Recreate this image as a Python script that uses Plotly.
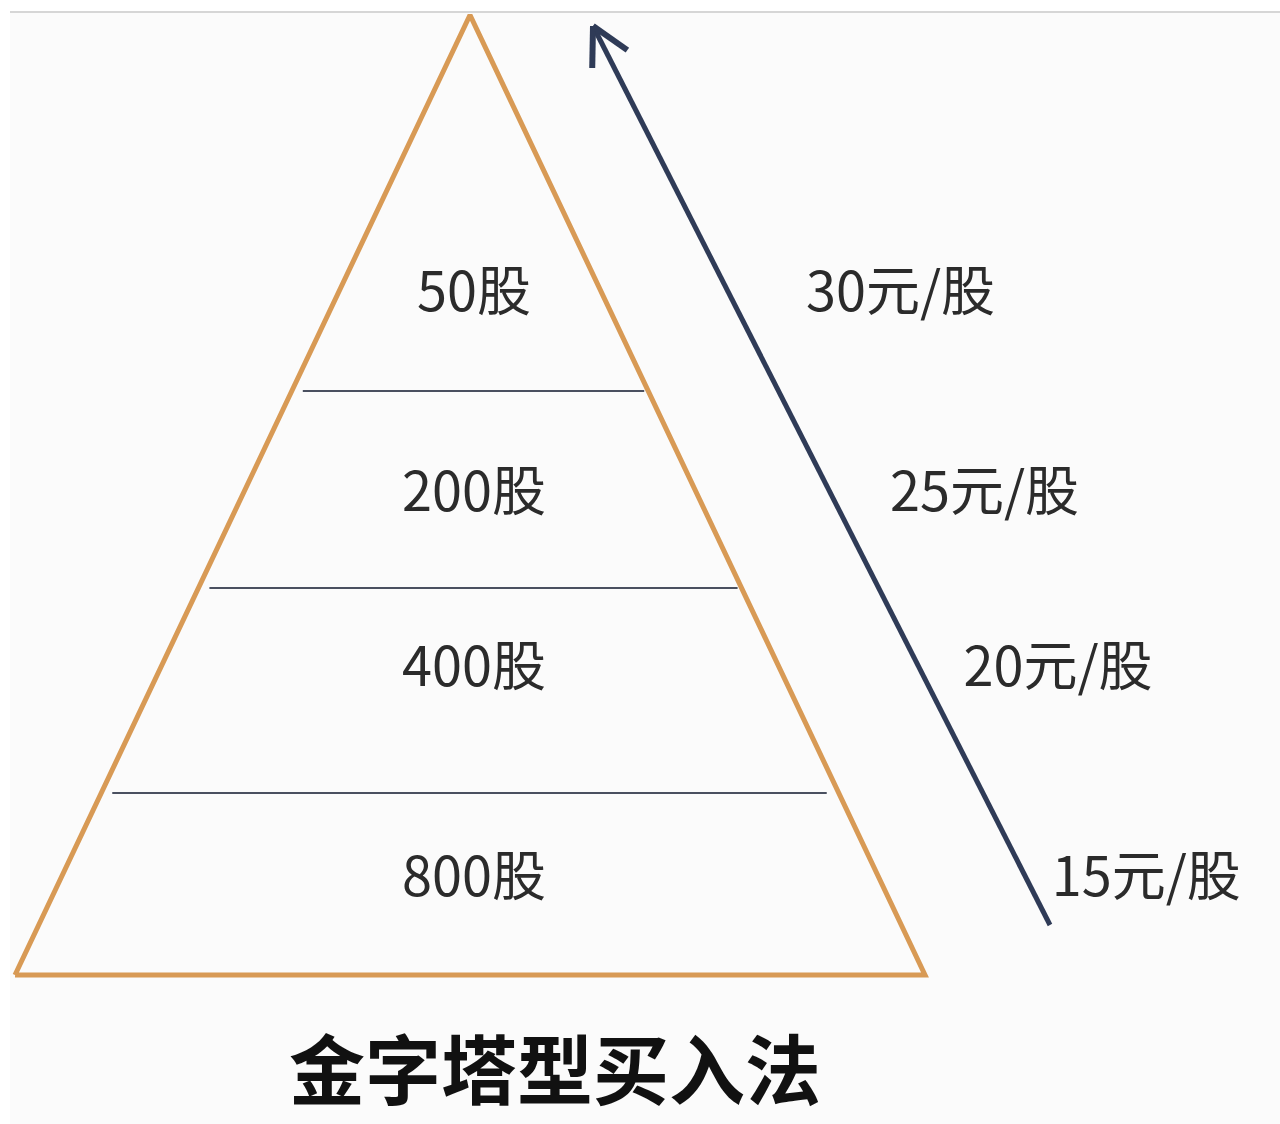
import math
import plotly.graph_objects as go

# ---- data ----
shares = [50, 200, 400, 800]          # shares bought at each tier (top -> bottom)
prices = [30, 25, 20, 15]             # price per share at each tier (yuan)
share_labels = [f"{s}股" for s in shares]
price_labels = [f"{p}元/股" for p in prices]
title_text = "金字塔型买入法"

# ---- layout geometry (pixel space) ----
W, H = 1280, 1124
apex = (470, 15)
base_y = 975
base_left, base_right = 15, 925
divider_y = [391, 588, 793]           # tier separators
label_y = [297, 497, 672, 882]        # tier label centres
arrow_tail = (1050, 925)
arrow_tip = (593, 26)

TRI_COLOR = "#D89A55"
ARROW_COLOR = "#2F3B57"
TEXT_COLOR = "#2b2b2b"
FONT = "Noto Sans CJK SC"

def edge_x(y, side):
    t = (y - apex[1]) / (base_y - apex[1])
    end = base_left if side == "left" else base_right
    return apex[0] + (end - apex[0]) * t

fig = go.Figure()

# background panel
fig.add_shape(type="rect", x0=10, y0=12, x1=W, y1=H, fillcolor="#fbfbfb",
              line=dict(width=0), layer="below")
fig.add_shape(type="line", x0=10, y0=12, x1=W, y1=12,
              line=dict(color="#d6d6d6", width=2), layer="below")

# dividers
for i, y in enumerate(divider_y):
    fig.add_trace(go.Scatter(
        x=[edge_x(y, "left") + 11, edge_x(y, "right") - (4 if i < 2 else 12)],
        y=[y, y], mode="lines",
        line=dict(color="#4a5060", width=2), hoverinfo="skip", showlegend=False))

# triangle
fig.add_trace(go.Scatter(
    x=[base_left, apex[0], base_right, base_left],
    y=[base_y, apex[1], base_y, base_y],
    mode="lines", line=dict(color=TRI_COLOR, width=5),
    hoverinfo="skip", showlegend=False))

# arrow shaft and open head
fig.add_trace(go.Scatter(
    x=[arrow_tail[0], arrow_tip[0]], y=[arrow_tail[1], arrow_tip[1]],
    mode="lines", line=dict(color=ARROW_COLOR, width=5),
    hoverinfo="skip", showlegend=False))
ang = math.atan2(arrow_tail[1] - arrow_tip[1], arrow_tail[0] - arrow_tip[0])
head_len, spread = 42, math.radians(28)
for s in (+1, -1):
    a = ang + s * spread
    fig.add_trace(go.Scatter(
        x=[arrow_tip[0], arrow_tip[0] + head_len * math.cos(a)],
        y=[arrow_tip[1], arrow_tip[1] + head_len * math.sin(a)],
        mode="lines", line=dict(color=ARROW_COLOR, width=6),
        hoverinfo="skip", showlegend=False))

# tier labels
fig.add_trace(go.Scatter(
    x=[apex[0] + 4] * len(shares), y=label_y, mode="text",
    text=share_labels, textposition="middle center",
    textfont=dict(family=FONT, size=54, color=TEXT_COLOR),
    hoverinfo="skip", showlegend=False))

# price labels, left-aligned along a line next to the arrow
price_x = [806 + 0.42 * (y - label_y[0]) for y in label_y]
fig.add_trace(go.Scatter(
    x=price_x, y=label_y, mode="text",
    text=price_labels, textposition="middle right",
    textfont=dict(family=FONT, size=54, color=TEXT_COLOR),
    hoverinfo="skip", showlegend=False))

# title
fig.add_annotation(x=555, y=1066, xref="x", yref="y", text=f"<b>{title_text}</b>",
                   showarrow=False, font=dict(family=FONT, size=76, color="#111111"),
                   xanchor="center", yanchor="middle")

fig.update_layout(
    width=W, height=H, margin=dict(l=0, r=0, t=0, b=0),
    paper_bgcolor="white", plot_bgcolor="white",
    xaxis=dict(range=[0, W], visible=False, fixedrange=True),
    yaxis=dict(range=[H, 0], visible=False, fixedrange=True),
)

fig.write_html("out.html", config={"displayModeBar": False},
               post_script="document.body.style.margin='0px';document.body.style.overflow='hidden';")
